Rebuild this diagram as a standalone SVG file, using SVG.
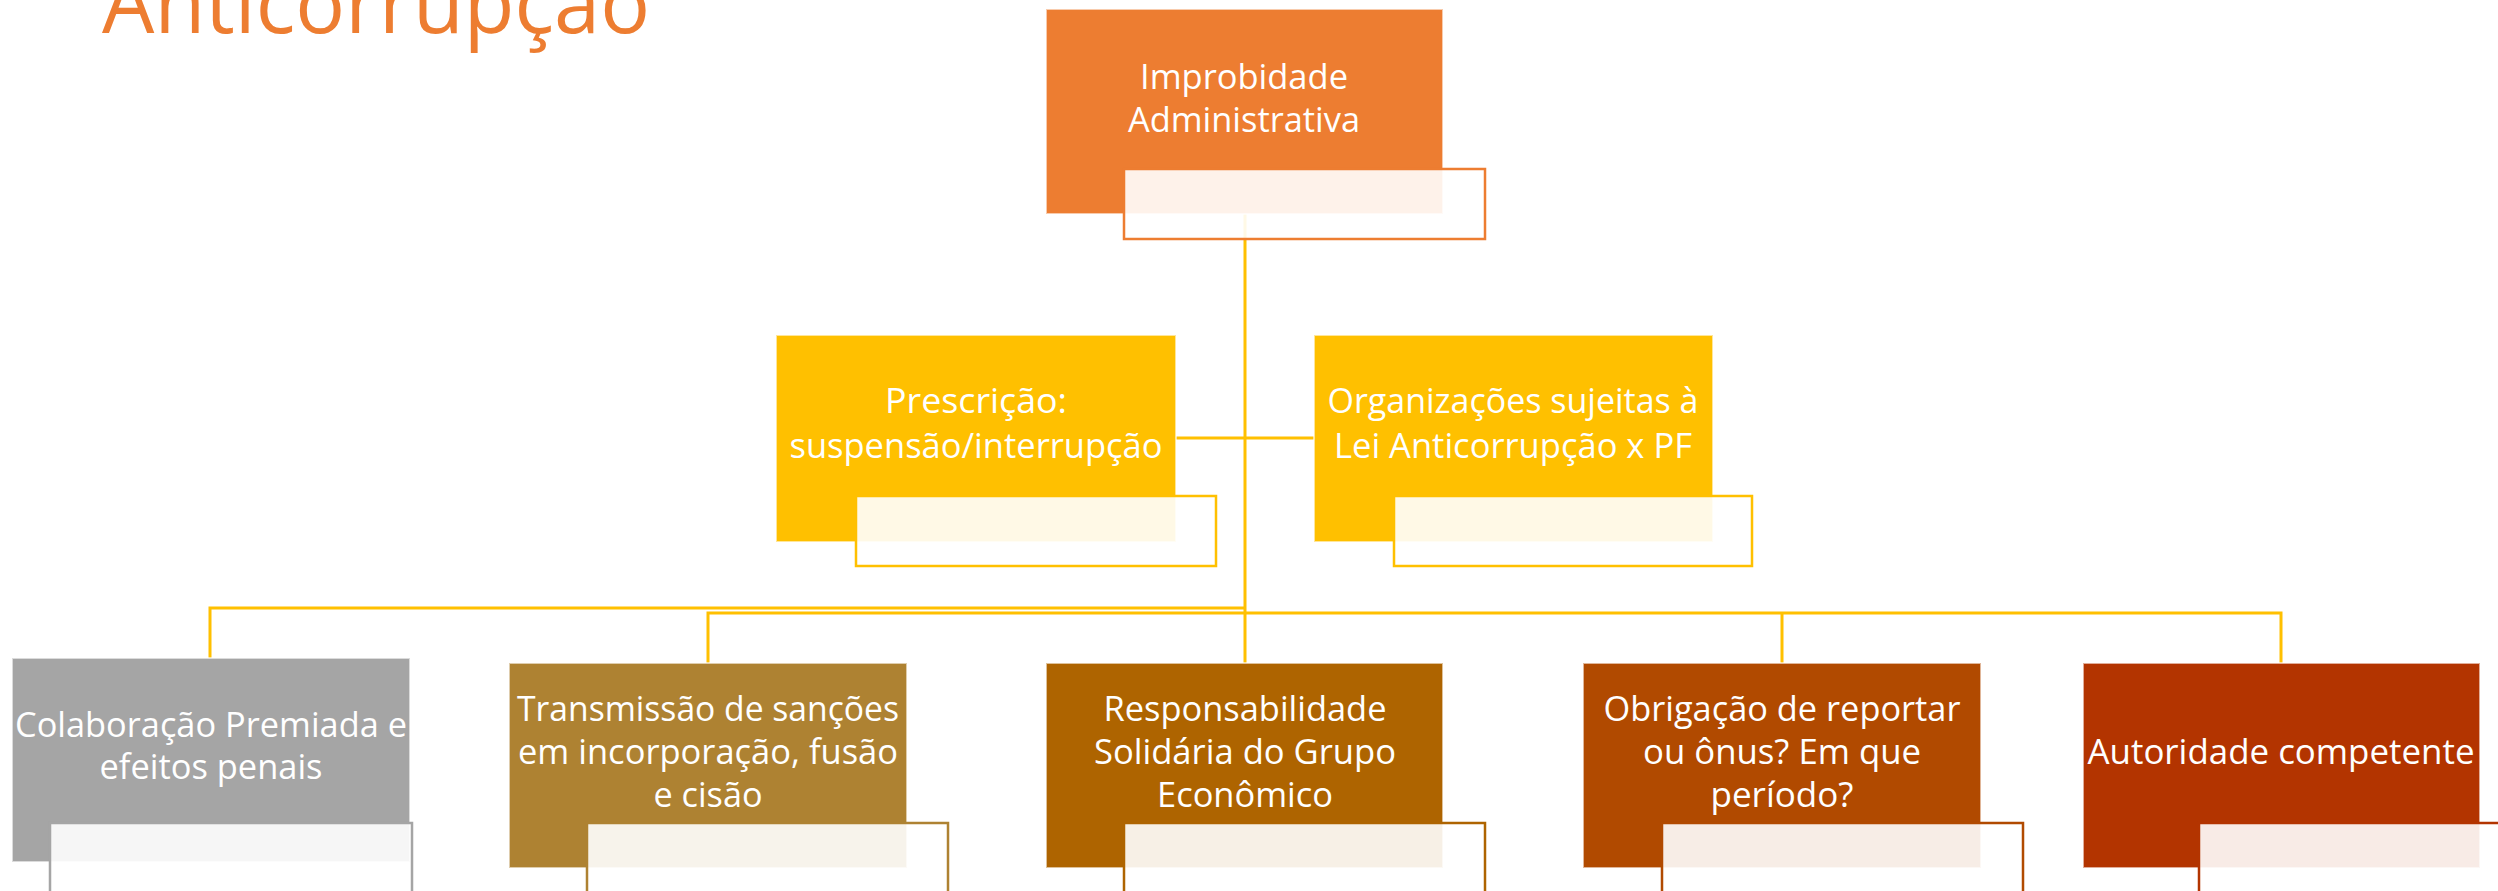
<svg xmlns="http://www.w3.org/2000/svg" width="2498" height="891" viewBox="0 0 2498 891">
<style>
.t{font-family:"Open Sans","Noto Sans","Liberation Sans",sans-serif;font-size:35px;fill:#fff;text-anchor:middle}
.title{font-family:"Open Sans","Noto Sans","Liberation Sans",sans-serif;font-size:84px;font-weight:400;fill:#ED7D31}
.box{stroke:#fff;stroke-opacity:0.6;stroke-width:2}
.ov{fill:#fff;fill-opacity:0.9;stroke-width:2.5}
.cn{fill:none;stroke:#FFC000;stroke-width:3}
</style>
<text class="title" x="102" y="33" textLength="548" lengthAdjust="spacingAndGlyphs">Anticorrupção</text>
<g id="connectors">
<line class="cn" x1="1245" y1="214" x2="1245" y2="663"/>
<line class="cn" x1="1176" y1="438" x2="1314" y2="438"/>
<polyline class="cn" points="1245,608 210,608 210,658"/>
<polyline class="cn" points="708,663 708,613 2281,613 2281,663"/>
<line class="cn" x1="1782" y1="613" x2="1782" y2="663"/>
</g>
<g id="n-improbidade">
<rect class="box" x="1046" y="9" width="397" height="205" fill="#ED7D31"/>
<rect class="ov" x="1124" y="169" width="361" height="70" stroke="#ED7D31"/>
<text class="t" x="1244" y="89" textLength="208" lengthAdjust="spacingAndGlyphs">Improbidade</text>
<text class="t" x="1244" y="132" textLength="232" lengthAdjust="spacingAndGlyphs">Administrativa</text>
</g>
<g id="n-prescricao">
<rect class="box" x="776" y="335" width="400" height="207" fill="#FFC000"/>
<rect class="ov" x="856" y="496" width="360" height="70" stroke="#FFC000"/>
<text class="t" x="976" y="413" textLength="182" lengthAdjust="spacingAndGlyphs">Prescrição:</text>
<text class="t" x="976" y="458" textLength="373" lengthAdjust="spacingAndGlyphs">suspensão/interrupção</text>
</g>
<g id="n-organizacoes">
<rect class="box" x="1314" y="335" width="399" height="207" fill="#FFC000"/>
<rect class="ov" x="1394" y="496" width="358" height="70" stroke="#FFC000"/>
<text class="t" x="1513" y="413" textLength="371" lengthAdjust="spacingAndGlyphs">Organizações sujeitas à</text>
<text class="t" x="1513" y="458" textLength="358" lengthAdjust="spacingAndGlyphs">Lei Anticorrupção x PF</text>
</g>
<g id="n-colaboracao">
<rect class="box" x="12" y="658" width="398" height="204" fill="#A5A5A5"/>
<rect class="ov" x="50" y="823" width="362" height="72" stroke="#A5A5A5"/>
<text class="t" x="211" y="737" textLength="392" lengthAdjust="spacingAndGlyphs">Colaboração Premiada e</text>
<text class="t" x="211" y="779" textLength="223" lengthAdjust="spacingAndGlyphs">efeitos penais</text>
</g>
<g id="n-transmissao">
<rect class="box" x="509" y="663" width="398" height="205" fill="#AE8232"/>
<rect class="ov" x="587" y="823" width="361" height="72" stroke="#AE8232"/>
<text class="t" x="708" y="721" textLength="382" lengthAdjust="spacingAndGlyphs">Transmissão de sanções</text>
<text class="t" x="708" y="764" textLength="380" lengthAdjust="spacingAndGlyphs">em incorporação, fusão</text>
<text class="t" x="708" y="807" textLength="109" lengthAdjust="spacingAndGlyphs">e cisão</text>
</g>
<g id="n-responsabilidade">
<rect class="box" x="1046" y="663" width="397" height="205" fill="#AE6400"/>
<rect class="ov" x="1124" y="823" width="361" height="72" stroke="#AE6400"/>
<text class="t" x="1245" y="721" textLength="283" lengthAdjust="spacingAndGlyphs">Responsabilidade</text>
<text class="t" x="1245" y="764" textLength="302" lengthAdjust="spacingAndGlyphs">Solidária do Grupo</text>
<text class="t" x="1245" y="807" textLength="176" lengthAdjust="spacingAndGlyphs">Econômico</text>
</g>
<g id="n-obrigacao">
<rect class="box" x="1583" y="663" width="398" height="205" fill="#B14A00"/>
<rect class="ov" x="1662" y="823" width="361" height="72" stroke="#B14A00"/>
<text class="t" x="1782" y="721" textLength="357" lengthAdjust="spacingAndGlyphs">Obrigação de reportar</text>
<text class="t" x="1782" y="764" textLength="278" lengthAdjust="spacingAndGlyphs">ou ônus? Em que</text>
<text class="t" x="1782" y="807" textLength="143" lengthAdjust="spacingAndGlyphs">período?</text>
</g>
<g id="n-autoridade">
<rect class="box" x="2083" y="663" width="397" height="205" fill="#B33400"/>
<rect class="ov" x="2199" y="823" width="361" height="72" stroke="#B33400"/>
<text class="t" x="2281" y="764" textLength="387" lengthAdjust="spacingAndGlyphs">Autoridade competente</text>
</g>
</svg>
